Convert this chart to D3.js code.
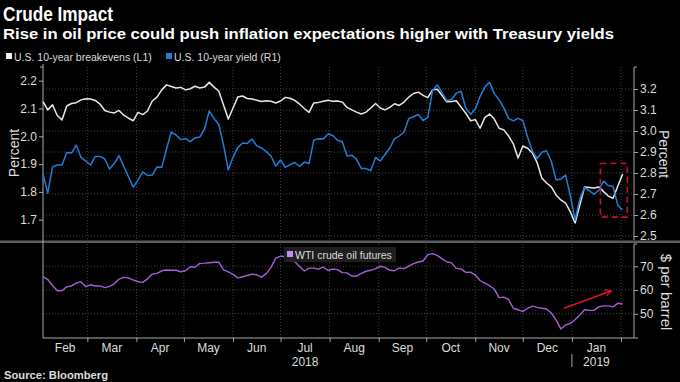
<!DOCTYPE html>
<html>
<head>
<meta charset="utf-8">
<script src="https://cdn.jsdelivr.net/npm/d3@7"></script>
<style>
body { margin: 0; background: #000; }
svg { display: block; font-family: "Liberation Sans", Arial, sans-serif; }
</style>
</head>
<body>
<div id="chart"></div>
<script>
// one value every 3 days, starting 1 Feb 2018
var startDate = new Date(2018, 1, 1)
var stepDays = 3

// U.S. 10-year breakevens, percent (left axis)
var breakevens = [
  2.125, 2.095, 2.113, 2.075, 2.059, 2.109, 2.118, 2.121, 2.131, 2.135,
  2.134, 2.129, 2.116, 2.093, 2.087, 2.084, 2.093, 2.076, 2.065, 2.056,
  2.086, 2.078, 2.091, 2.127, 2.141, 2.167, 2.185, 2.179, 2.174, 2.176,
  2.167, 2.171, 2.180, 2.174, 2.177, 2.194, 2.177, 2.163, 2.113, 2.062,
  2.102, 2.141, 2.145, 2.136, 2.134, 2.130, 2.125, 2.128, 2.126, 2.120,
  2.127, 2.140, 2.137, 2.129, 2.116, 2.100, 2.086, 2.120, 2.122, 2.126,
  2.130, 2.126, 2.127, 2.123, 2.104, 2.095, 2.087, 2.080, 2.087, 2.102,
  2.118, 2.102, 2.095, 2.104, 2.117, 2.111, 2.123, 2.141, 2.154, 2.159,
  2.147, 2.139, 2.167, 2.169, 2.147, 2.124, 2.125, 2.128, 2.105, 2.083,
  2.056, 2.060, 2.029, 2.067, 2.080, 2.062, 2.029, 2.023, 2.001, 1.973,
  1.922, 1.965, 1.957, 1.940, 1.906, 1.850, 1.832, 1.818, 1.789, 1.771,
  1.760, 1.728, 1.688, 1.753, 1.818, 1.816, 1.814, 1.818, 1.801, 1.785,
  1.777, 1.821, 1.864
]

// U.S. 10-year yield, percent (right axis)
var yields = [
  2.795, 2.705, 2.829, 2.838, 2.838, 2.898, 2.895, 2.933, 2.874, 2.857,
  2.838, 2.879, 2.879, 2.867, 2.819, 2.845, 2.883, 2.831, 2.782, 2.733,
  2.767, 2.805, 2.788, 2.790, 2.829, 2.827, 2.914, 2.995, 2.981, 2.959,
  2.964, 2.949, 2.967, 2.971, 3.010, 3.095, 3.060, 3.031, 2.933, 2.814,
  2.876, 2.921, 2.943, 2.941, 2.962, 2.929, 2.919, 2.902, 2.881, 2.833,
  2.862, 2.827, 2.840, 2.850, 2.831, 2.852, 2.845, 2.957, 2.963, 2.962,
  2.986, 2.979, 2.956, 2.949, 2.881, 2.885, 2.865, 2.822, 2.821, 2.812,
  2.874, 2.857, 2.888, 2.919, 2.964, 2.976, 2.995, 3.060, 3.068, 3.079,
  3.050, 3.065, 3.193, 3.219, 3.183, 3.145, 3.150, 3.180, 3.189, 3.108,
  3.080, 3.105, 3.164, 3.209, 3.232, 3.178, 3.148, 3.110, 3.060, 3.048,
  3.060, 3.050, 2.971, 2.905, 2.869, 2.899, 2.906, 2.855, 2.767, 2.771,
  2.790, 2.693, 2.576, 2.676, 2.732, 2.715, 2.699, 2.718, 2.762, 2.740,
  2.736, 2.646, 2.624
]

// WTI crude oil futures, $ per barrel
var wti = [
  65.6, 64.4, 61.9, 59.7, 59.7, 61.3, 61.7, 62.9, 63.5, 61.4,
  62.2, 61.7, 61.7, 61.0, 61.5, 62.6, 64.6, 65.3, 65.1, 64.2,
  63.5, 63.2, 64.7, 66.7, 67.0, 68.1, 68.4, 68.3, 68.3, 67.7,
  68.1, 69.8, 69.6, 71.2, 71.3, 71.5, 71.7, 71.7, 68.5, 67.6,
  66.6, 65.1, 65.6, 66.1, 66.7, 66.4, 65.4, 66.9, 69.5, 73.4,
  74.3, 73.9, 73.9, 71.9, 69.9, 68.0, 69.2, 69.2, 68.8, 69.7,
  68.2, 68.8, 68.6, 67.3, 67.2, 65.9, 65.8, 67.0, 67.9, 68.3,
  69.0, 70.0, 69.5, 68.3, 68.1, 69.3, 69.0, 70.1, 71.1, 71.8,
  72.2, 74.9, 75.3, 74.6, 73.1, 71.9, 71.4, 69.1, 68.9, 67.4,
  67.5, 66.3, 64.0, 62.9, 61.8, 60.4, 56.8, 57.0, 56.0, 52.3,
  51.7, 50.9, 52.3, 53.2, 52.7, 52.3, 52.0, 50.3, 47.4, 43.6,
  45.3, 45.9, 47.5, 49.5, 51.7, 51.4, 51.5, 52.9, 53.3, 53.3,
  52.9, 54.4, 54.1
]

var leftTicks = [1.7, 1.8, 1.9, 2.0, 2.1, 2.2]
var rightTicks = [2.5, 2.6, 2.7, 2.8, 2.9, 3.0, 3.1, 3.2]
var oilTicks = [40, 50, 60, 70]
var monthNames = ["Jan", "Feb", "Mar", "Apr", "May", "Jun", "Jul", "Aug", "Sep", "Oct", "Nov", "Dec"]

// red box round the latest moves, and the arrow on oil
var boxDates = [new Date(2019, 0, 19), new Date(2019, 1, 5)]
var boxYields = [2.59, 2.845]
var arrowFrom = [new Date(2018, 11, 27), 52.3]
var arrowTo = [new Date(2019, 0, 26), 59.7]

var dates = breakevens.map(function (d, i) {
    return d3.timeDay.offset(startDate, i * stepDays)
})

var W = 680, H = 382
var left = 43, right = 634
var topY0 = 67, topY1 = 240, botY0 = 243, botY1 = 338

var svg = d3.select("#chart")
            .append("svg")
            .attr("width", W)
            .attr("height", H)
            .style("background", "#000")

var x = d3.scaleTime()
          .domain([new Date(2018, 1, 1), new Date(2019, 1, 1)])
          .range([43, 621])
var yL = d3.scaleLinear().domain([1.7, 2.2]).range([219.7, 80.7])
var yR = d3.scaleLinear().domain([2.5, 3.2]).range([236, 89])
var yB = d3.scaleLinear().domain([40, 70]).range([337.5, 266.25])

var monthStarts = d3.timeMonth.range(new Date(2018, 2, 1), new Date(2019, 1, 2))
var monthSpans = d3.timeMonth.range(new Date(2018, 1, 1), new Date(2019, 1, 1))

// titles
svg.append("text")
   .attr("x", 3).attr("y", 21)
   .attr("textLength", 110).attr("lengthAdjust", "spacingAndGlyphs")
   .style("font-size", "21px").style("font-weight", "bold").style("fill", "#fff")
   .text("Crude Impact")

svg.append("text")
   .attr("x", 3).attr("y", 39)
   .attr("textLength", 611).attr("lengthAdjust", "spacingAndGlyphs")
   .style("font-size", "15px").style("font-weight", "bold").style("fill", "#fff")
   .text("Rise in oil price could push inflation expectations higher with Treasury yields")

// top legend
var legendData = [
    { key: "U.S. 10-year breakevens (L1)", color: "#f0f0f0", x: 6 },
    { key: "U.S. 10-year yield (R1)", color: "#1f7fd8", x: 166 }
]
var legend = svg.selectAll(".legend")
                .data(legendData)
                .enter().append("g")
                .attr("class", "legend")
                .attr("transform", function (d) { return "translate(" + d.x + ",53)" })
legend.append("rect")
      .attr("width", 6).attr("height", 6)
      .style("fill", function (d) { return d.color })
legend.append("text")
      .attr("x", 8).attr("y", 7.5)
      .style("font-size", "10.5px").style("fill", "#ddd")
      .text(function (d) { return d.key })

// grid
var grid = svg.append("g").style("stroke", "#444").style("stroke-dasharray", "1,2")
grid.selectAll(".gv").data(monthStarts).enter().append("line")
    .attr("x1", function (d) { return x(d) }).attr("x2", function (d) { return x(d) })
    .attr("y1", topY0).attr("y2", botY1)
grid.selectAll(".gt").data(rightTicks.slice(1)).enter().append("line")
    .attr("x1", left).attr("x2", right)
    .attr("y1", function (d) { return yR(d) }).attr("y2", function (d) { return yR(d) })
grid.selectAll(".gb").data(oilTicks.slice(1)).enter().append("line")
    .attr("x1", left).attr("x2", right)
    .attr("y1", function (d) { return yB(d) }).attr("y2", function (d) { return yB(d) })
grid.append("line").attr("x1", left).attr("x2", right)
    .attr("y1", yR(2.5)).attr("y2", yR(2.5))

// panel separator
svg.append("rect")
   .attr("x", 0).attr("y", 240.5).attr("width", W).attr("height", 2.5)
   .style("fill", "#5c5c5c")

// axes
function styleAxis(g) {
    g.select(".domain").remove()
    g.selectAll("line").style("stroke", "#aaa")
    g.selectAll("text").style("fill", "#ddd").style("font-size", "12px")
        .style("font-family", "'Liberation Sans', Arial, sans-serif")
}

svg.append("g")
   .attr("transform", "translate(" + left + ",0)")
   .call(d3.axisLeft(yL).tickValues(leftTicks).tickSize(4).tickPadding(2).tickFormat(d3.format(".1f")))
   .call(styleAxis)

svg.append("g")
   .attr("transform", "translate(" + right + ",0)")
   .call(d3.axisRight(yR).tickValues(rightTicks).tickSize(4).tickPadding(2).tickFormat(d3.format(".1f")))
   .call(styleAxis)

svg.append("g")
   .attr("transform", "translate(" + right + ",0)")
   .call(d3.axisRight(yB).tickValues(oilTicks).tickSize(4).tickPadding(2)
           .tickFormat(function (d) { return d === 40 ? "" : d }))
   .call(styleAxis)

svg.append("g")
   .attr("transform", "translate(0," + botY1 + ")")
   .call(d3.axisBottom(x).tickValues(monthStarts).tickSize(4).tickFormat(""))
   .call(styleAxis)

var axisLines = [
    [left, topY0 - 3, left, botY1],
    [right, topY0, right, topY1],
    [right, botY0 + 1, right, botY1],
    [left, botY1, right, botY1],
    [left, topY0, left - 3, topY0],
    [right, topY0, right + 3, topY0],
    [right, botY0 + 1, right + 3, botY0 + 1],
    [x(new Date(2019, 0, 1)), botY1 + 16, x(new Date(2019, 0, 1)), botY1 + 29]
]
svg.selectAll(".axisline").data(axisLines).enter().append("line")
   .attr("x1", function (d) { return d[0] }).attr("y1", function (d) { return d[1] })
   .attr("x2", function (d) { return d[2] }).attr("y2", function (d) { return d[3] })
   .style("stroke", "#aaa").style("stroke-width", 1)

// month and year labels
svg.selectAll(".month").data(monthSpans).enter().append("text")
   .attr("x", function (d) { return (x(d) + x(d3.timeMonth.offset(d, 1))) / 2 })
   .attr("y", 352)
   .attr("text-anchor", "middle")
   .style("font-size", "12px").style("fill", "#ddd")
   .text(function (d) { return monthNames[d.getMonth()] })

svg.selectAll(".year")
   .data([new Date(2018, 6, 1), new Date(2019, 0, 1)]).enter().append("text")
   .attr("x", function (d) { return (x(d) + x(d3.timeMonth.offset(d, 1))) / 2 })
   .attr("y", 366)
   .attr("text-anchor", "middle")
   .style("font-size", "12px").style("fill", "#ddd")
   .text(function (d) { return d.getFullYear() })

// axis titles
svg.append("text")
   .attr("transform", "translate(19,153) rotate(-90)")
   .attr("text-anchor", "middle")
   .style("font-size", "14px").style("fill", "#ddd")
   .text("Percent")
svg.append("text")
   .attr("transform", "translate(659,154) rotate(90)")
   .attr("text-anchor", "middle")
   .style("font-size", "14px").style("fill", "#ddd")
   .text("Percent")
svg.append("text")
   .attr("transform", "translate(661,292) rotate(90)")
   .attr("text-anchor", "middle")
   .style("font-size", "15px").style("fill", "#ddd")
   .text("$ per barrel")

// lines
var lineL = d3.line()
              .x(function (d, i) { return x(dates[i]) })
              .y(function (d) { return yL(d) })
var lineR = d3.line()
              .x(function (d, i) { return x(dates[i]) })
              .y(function (d) { return yR(d) })
var lineB = d3.line()
              .x(function (d, i) { return x(dates[i]) })
              .y(function (d) { return yB(d) })

svg.append("path").datum(breakevens).attr("d", lineL)
   .style("fill", "none").style("stroke", "#e8e8e8").style("stroke-width", 1.5)
   .style("stroke-linejoin", "round")
svg.append("path").datum(yields).attr("d", lineR)
   .style("fill", "none").style("stroke", "#1f7fd8").style("stroke-width", 1.5)
   .style("stroke-linejoin", "round")
svg.append("path").datum(wti).attr("d", lineB)
   .style("fill", "none").style("stroke", "#a45ed8").style("stroke-width", 1.4)
   .style("stroke-linejoin", "round")

// oil legend
var oilLegend = svg.append("g").attr("transform", "translate(284,247)")
oilLegend.append("rect").attr("width", 112).attr("height", 15).style("fill", "#1e1e1e")
oilLegend.append("rect").attr("x", 3).attr("y", 4).attr("width", 6).attr("height", 6)
         .style("fill", "#c98af7")
oilLegend.append("text").attr("x", 11).attr("y", 11.5)
         .style("font-size", "10.5px").style("fill", "#ddd")
         .text("WTI crude oil futures")

// annotations
svg.append("rect")
   .attr("x", x(boxDates[0])).attr("y", yR(boxYields[1]))
   .attr("width", x(boxDates[1]) - x(boxDates[0]))
   .attr("height", yR(boxYields[0]) - yR(boxYields[1]))
   .style("fill", "none").style("stroke", "#c8102e").style("stroke-width", 1.6)
   .style("stroke-dasharray", "6,4")

svg.append("defs").append("marker")
   .attr("id", "arrow")
   .attr("viewBox", "0 0 10 10")
   .attr("refX", 9).attr("refY", 5)
   .attr("markerWidth", 8).attr("markerHeight", 8)
   .attr("markerUnits", "userSpaceOnUse")
   .attr("orient", "auto")
   .append("path")
   .attr("d", "M1,1 L9,5 L1,9")
   .style("fill", "none").style("stroke", "#e0142d").style("stroke-width", 1.5)

svg.append("line")
   .attr("x1", x(arrowFrom[0])).attr("y1", yB(arrowFrom[1]))
   .attr("x2", x(arrowTo[0])).attr("y2", yB(arrowTo[1]))
   .attr("marker-end", "url(#arrow)")
   .style("stroke", "#e0142d").style("stroke-width", 1.5)

// source
svg.append("text")
   .attr("x", 4).attr("y", 379)
   .attr("textLength", 104).attr("lengthAdjust", "spacingAndGlyphs")
   .style("font-size", "11px").style("font-weight", "bold").style("fill", "#ddd")
   .text("Source: Bloomberg")
</script>
</body>
</html>
